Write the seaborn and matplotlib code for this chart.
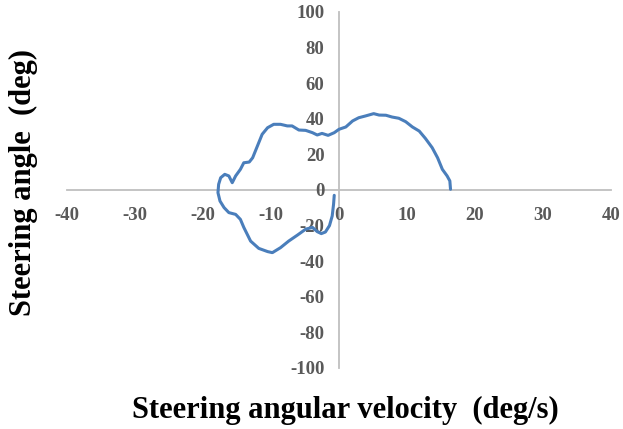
import matplotlib
matplotlib.use("Agg")
import matplotlib.pyplot as plt
import seaborn as sns
import pandas as pd

# Steering angular velocity (deg/s) and steering angle (deg), in drawing order
velocity = [-0.7, -0.8, -1.0, -1.4, -2.0, -2.6, -3.2, -3.9, -4.9, -6.1, -7.4, -8.6,
            -9.8, -10.5, -11.8, -13.0, -14.0, -14.5, -15.2, -16.2, -16.9, -17.5,
            -17.8, -17.7, -17.4, -16.8, -16.2, -15.7, -15.2, -14.5, -14.0, -13.2,
            -12.7, -12.0, -11.3, -10.5, -9.6, -8.6, -7.6, -6.9, -5.9, -4.9, -3.9,
            -3.2, -2.5, -1.6, -0.7, 0.0, 1.0, 2.0, 2.9, 3.9, 5.1, 5.9, 6.9, 7.8,
            8.8, 9.8, 10.8, 11.8, 12.7, 13.7, 14.5, 15.2, 15.9, 16.3, 16.4]
angle = [-3.0, -8.0, -14.6, -20.0, -23.6, -24.5, -23.4, -21.0, -22.0, -25.3, -28.7,
         -32.4, -35.2, -34.6, -32.8, -28.7, -21.0, -16.5, -13.7, -12.7, -9.9, -6.2,
         -1.5, 3.2, 6.9, 8.8, 7.9, 4.1, 7.9, 11.6, 15.3, 15.7, 18.1, 24.7, 31.3,
         35.0, 36.9, 36.9, 36.0, 36.0, 33.7, 33.5, 32.2, 30.9, 31.8, 30.7, 32.2,
         34.1, 35.4, 38.8, 40.6, 41.6, 42.9, 42.1, 42.0, 41.0, 40.3, 38.4, 35.4,
         33.1, 29.0, 23.8, 18.1, 11.6, 7.9, 5.1, 0.4]

x_ticks = [-40, -30, -20, -10, 0, 10, 20, 30, 40]
y_ticks = [-100, -80, -60, -40, -20, 0, 20, 40, 60, 80, 100]

df = pd.DataFrame({"v": velocity, "a": angle})

sns.set_style("white")
plt.rcParams["font.family"] = ["Liberation Serif", "DejaVu Serif"]
plt.rcParams["axes.unicode_minus"] = False

fig = plt.figure(figsize=(6.23, 4.29), dpi=100)
ax = fig.add_axes([67 / 623, 1 - 368 / 429, (611 - 67) / 623, (368 - 12) / 429])

sns.lineplot(data=df, x="v", y="a", sort=False, estimator=None, ax=ax,
             color="#4a7ebb", linewidth=2.2)

ax.set_xlim(-40, 40)
ax.set_ylim(-100, 100)
ax.set_xticks(x_ticks)
ax.set_yticks(y_ticks)
ax.set_xticklabels([str(t) for t in x_ticks])
ax.set_yticklabels([str(t) for t in y_ticks])

for s in ["top", "right"]:
    ax.spines[s].set_visible(False)
ax.spines["left"].set_position(("data", 0))
ax.spines["bottom"].set_position(("data", 0))
for s in ["left", "bottom"]:
    ax.spines[s].set_color("#bfbfbf")
    ax.spines[s].set_linewidth(1.3)
    ax.spines[s].set_zorder(0)

ax.tick_params(axis="both", length=0, labelsize=13.5, labelcolor="#595959")
ax.tick_params(axis="x", pad=12)
ax.tick_params(axis="y", pad=10.5)
for lab in ax.get_xticklabels() + ax.get_yticklabels():
    lab.set_fontweight("bold")

ax.set_xlabel("")
ax.set_ylabel("")
fig.text(345 / 623, 1 - 410 / 429, "Steering angular velocity  (deg/s)",
         ha="center", va="center", fontsize=22, fontweight="bold", color="black")
fig.text(23 / 623, 1 - 183 / 429, "Steering angle  (deg)", rotation=90,
         ha="center", va="center", fontsize=22, fontweight="bold", color="black")

fig.savefig("out.png", dpi=100, facecolor="white")
